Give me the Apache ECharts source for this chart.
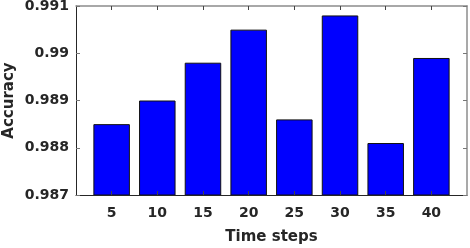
<!DOCTYPE html>
<html>
<head>
<meta charset="utf-8">
<script src="https://cdn.jsdelivr.net/npm/echarts@6/dist/echarts.min.js"></script>
<style>html,body{margin:0;padding:0;background:#fff}#c{width:470px;height:248px}</style>
</head>
<body>
<div id="c"></div>
<script>
var timeSteps = [5, 10, 15, 20, 25, 30, 35, 40];
var accuracy = [0.9885, 0.9890, 0.9898, 0.9905, 0.9886, 0.9908, 0.9881, 0.9899];
var yTicks = [0.987, 0.988, 0.989, 0.990, 0.991];
var xLabel = 'Time steps';
var yLabel = 'Accuracy';

var chart = echarts.init(document.getElementById('c'), null, {renderer: 'canvas'});
var font = 'DejaVu Sans';
var txt = '#262626';
var xMin = 1.1, xMax = 43.9;
var option = {
  animation: false,
  grid: {left: 76, top: 6, right: 3, bottom: 53, containLabel: false, outerBoundsMode: 'none'},
  xAxis: [{
    type: 'value', position: 'bottom', min: xMin, max: xMax, z: 5,
    name: xLabel, nameLocation: 'middle', nameGap: 35, nameMoveOverlap: false,
    nameTextStyle: {fontFamily: font, fontWeight: 'bold', fontSize: 15, color: txt},
    splitLine: {show: false},
    axisLine: {show: true, lineStyle: {color: '#262626', width: 1}},
    axisTick: {show: true, inside: true, length: 4, customValues: timeSteps, lineStyle: {color: '#444'}},
    axisLabel: {customValues: timeSteps, margin: 11, fontFamily: font, fontWeight: 'bold', fontSize: 14, color: txt}
  }, {
    type: 'value', position: 'top', min: xMin, max: xMax, z: 5,
    splitLine: {show: false},
    axisLine: {show: true, lineStyle: {color: '#8c8c8c', width: 1.5}},
    axisTick: {show: true, inside: true, length: 4, customValues: timeSteps, lineStyle: {color: '#444'}},
    axisLabel: {show: false}
  }],
  yAxis: [{
    type: 'value', position: 'left', min: 0.987, max: 0.991, interval: 0.001, z: 5,
    name: yLabel, nameLocation: 'middle', nameGap: 59, nameRotate: 90, nameMoveOverlap: false,
    nameTextStyle: {fontFamily: font, fontWeight: 'bold', fontSize: 15, color: txt},
    splitLine: {show: false},
    axisLine: {show: true, lineStyle: {color: '#262626', width: 1}},
    axisTick: {show: true, inside: true, length: 4, customValues: yTicks, lineStyle: {color: '#777'}},
    axisLabel: {customValues: yTicks, margin: 7, fontFamily: font, fontWeight: 'bold', fontSize: 14, color: txt,
      formatter: function (v) { return String(parseFloat(Number(v).toFixed(3))); }}
  }, {
    type: 'value', position: 'right', min: 0.987, max: 0.991, interval: 0.001, z: 5,
    splitLine: {show: false},
    axisLine: {show: true, lineStyle: {color: '#8c8c8c', width: 1.5}},
    axisTick: {show: true, inside: true, length: 4, customValues: yTicks, lineStyle: {color: '#777'}},
    axisLabel: {show: false}
  }],
  series: [{
    type: 'bar',
    xAxisIndex: 0, yAxisIndex: 0,
    barWidth: 36.5,
    data: timeSteps.map(function (t, i) { return [t, accuracy[i]]; }),
    itemStyle: {color: '#0000ff', borderColor: '#111', borderWidth: 1}
  }]
};
chart.setOption(option);
</script>
</body>
</html>
